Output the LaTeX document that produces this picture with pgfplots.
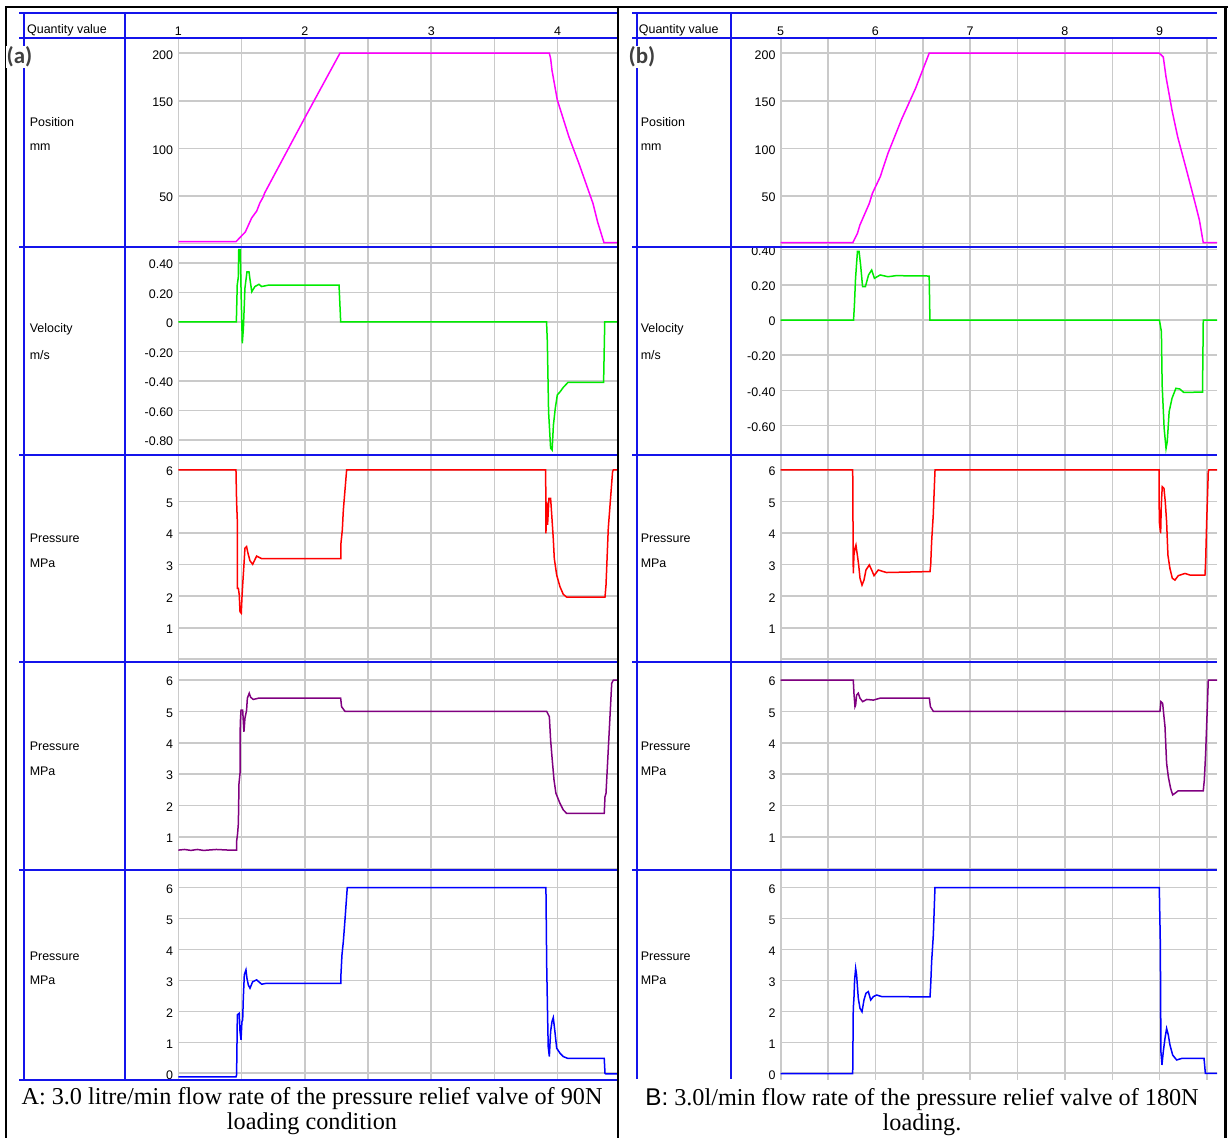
\documentclass[border=0pt]{standalone}
\usepackage{fontspec}
\usepackage{pgfplots}
\pgfplotsset{compat=1.18}
\newfontfamily\arial{Liberation Sans}
\newfontfamily\tnr{Liberation Serif}
\newfontfamily\calib{Carlito}
\definecolor{gridc}{RGB}{202,202,202}
\definecolor{frameblue}{RGB}{20,20,235}
\definecolor{cpink}{RGB}{255,0,255}
\definecolor{cgreen}{RGB}{0,235,0}
\definecolor{cred}{RGB}{255,0,0}
\definecolor{cpurple}{RGB}{128,0,128}
\definecolor{cblue}{RGB}{0,0,255}
\pgfplotsset{
 base/.style={scale only axis, anchor=south west, axis line style={draw=none},
   major tick length=0pt, minor tick length=0pt, tick style={draw=none},
   grid=both, major grid style={draw=gridc, line width=1.6bp},
   minor grid style={draw=gridc, line width=1.6bp},
   xticklabels={},
   tick label style={font=\arial\fontsize{12.5}{14}\selectfont},
   yticklabel style={anchor=east, inner sep=0pt, xshift=-5bp, yshift=-1.5bp},
   every axis plot/.append style={line width=1.5bp, mark=none}},
 L/.style={base, width=438.7bp, xmin=1, xmax=4.469, xtick={1,2,3,4}, minor xtick={1.5,2.5,3.5}},
 R/.style={base, width=436.3bp, xmin=5, xmax=9.605, xtick={5,6,7,8,9}, minor xtick={5.5,6.5,7.5,8.5,9.5}},
 toplab/.style={xticklabel pos=right, xticklabel style={anchor=south, inner sep=0pt, yshift=3bp}},
 pos/.style={height=208bp, ymin=-3.8, ymax=215, ytick={0,50,100,150,200}, yticklabels={,50,100,150,200}},
 p1/.style={height=207bp, ymin=-0.086, ymax=6.475, ytick={0,1,2,3,4,5,6}, yticklabels={,1,2,3,4,5,6}},
 p2/.style={height=208bp, ymin=-0.054, ymax=6.574, ytick={0,1,2,3,4,5,6}, yticklabels={,1,2,3,4,5,6}},
 p3/.style={height=210bp, ymin=-0.217, ymax=6.572, ytick={0,1,2,3,4,5,6}, yticklabels={0,1,2,3,4,5,6}},
}
\begin{document}
\begin{tikzpicture}
\path[use as bounding box] (0,0) rectangle (1228bp,1138bp);
% ---------------- Panel A ----------------
\begin{axis}[L, pos, toplab, xticklabels={1,2,3,4}, at={(178.3bp,891bp)}]
\addplot[cpink] coordinates {(1,1.8) (1.456,1.8) (1.53,12) (1.58,26.7) (1.62,34) (1.646,42.8) (1.67,48.5) (1.684,53.3) (1.996,131) (2.278,200) (3.934,200) (3.944,194.6) (3.955,182) (3.997,150.8) (4.089,112) (4.168,84) (4.279,42) (4.315,22.8) (4.366,0.7) (4.47,0.7)};
\end{axis}
\begin{axis}[L, height=208bp, ymin=-0.902, ymax=0.508, ytick={-0.8,-0.6,-0.4,-0.2,0,0.2,0.4}, yticklabels={-0.80,-0.60,-0.40,-0.20,0,0.20,0.40}, at={(178.3bp,683bp)}]
\addplot[cgreen] coordinates {(1,0) (1.459,0) (1.466,0.25) (1.474,0.30) (1.478,0.49) (1.49,0.49) (1.497,0.18) (1.506,-0.145) (1.515,-0.04) (1.527,0.23) (1.543,0.34) (1.559,0.34) (1.565,0.30) (1.581,0.205) (1.606,0.24) (1.638,0.255) (1.659,0.24) (1.716,0.25) (2.271,0.25) (2.284,0) (3.912,0) (3.918,-0.133) (3.928,-0.61) (3.944,-0.856) (3.956,-0.868) (3.966,-0.70) (3.981,-0.585) (3.997,-0.495) (4.022,-0.47) (4.043,-0.445) (4.081,-0.41) (4.363,-0.41) (4.372,0) (4.47,0)};
\end{axis}
\begin{axis}[L, p1, at={(178.3bp,476bp)}]
\addplot[cred] coordinates {(1,6) (1.456,6) (1.461,4.99) (1.467,4.36) (1.467,2.25) (1.475,2.25) (1.482,2.04) (1.488,1.51) (1.498,1.46) (1.503,1.93) (1.509,2.35) (1.519,2.99) (1.527,3.52) (1.54,3.57) (1.551,3.36) (1.567,3.12) (1.588,3.01) (1.619,3.27) (1.659,3.19) (2.286,3.19) (2.286,3.67) (2.297,4.1) (2.305,4.73) (2.318,5.36) (2.331,6) (3.905,6) (3.907,3.99) (3.913,4.99) (3.92,4.26) (3.931,5.1) (3.944,5.1) (3.952,4.63) (3.965,3.83) (3.973,3.2) (3.992,2.67) (4.018,2.3) (4.044,2.06) (4.071,1.97) (4.374,1.97) (4.382,2.35) (4.4,4.15) (4.434,5.95) (4.44,6) (4.47,6)};
\end{axis}
\begin{axis}[L, p2, at={(178.3bp,268bp)}]
\addplot[cpurple] coordinates {(1,0.58) (1.05,0.6) (1.1,0.57) (1.15,0.6) (1.2,0.57) (1.3,0.6) (1.4,0.58) (1.461,0.58) (1.461,0.85) (1.469,1.11) (1.475,1.43) (1.48,2.71) (1.488,3.03) (1.49,4.62) (1.496,5.04) (1.509,5.04) (1.519,4.35) (1.527,4.78) (1.54,5.04) (1.546,5.42) (1.561,5.58) (1.572,5.45) (1.593,5.38) (1.633,5.42) (2.284,5.42) (2.291,5.15) (2.318,5.0) (3.913,5.0) (3.934,4.83) (3.944,4.09) (3.957,3.45) (3.971,2.81) (3.986,2.39) (4.018,2.07) (4.044,1.86) (4.071,1.75) (4.368,1.75) (4.374,2.28) (4.382,2.39) (4.427,5.89) (4.44,6) (4.47,6)};
\end{axis}
\begin{axis}[L, p3, at={(178.3bp,58bp)}]
\addplot[cblue] coordinates {(1,-0.12) (1.456,-0.12) (1.461,-0.05) (1.467,1.89) (1.482,1.94) (1.488,1.35) (1.496,1.08) (1.503,1.67) (1.509,1.72) (1.514,2.42) (1.522,3.18) (1.535,3.34) (1.543,3.07) (1.554,2.85) (1.567,2.75) (1.588,2.96) (1.619,3.02) (1.659,2.88) (1.698,2.91) (2.286,2.91) (2.286,3.18) (2.294,3.82) (2.305,4.26) (2.318,4.96) (2.336,6) (3.907,6) (3.913,3.5) (3.92,1.89) (3.925,0.86) (3.934,0.54) (3.944,1.35) (3.955,1.67) (3.965,1.8) (3.978,1.35) (3.992,0.81) (4.018,0.65) (4.044,0.54) (4.081,0.48) (4.368,0.48) (4.374,0) (4.38,-0.02) (4.47,-0.02)};
\end{axis}
% ---------------- Panel B ----------------
\begin{axis}[R, pos, toplab, xticklabels={5,6,7,8,9}, at={(780.7bp,891bp)}]
\addplot[cpink] coordinates {(5,0.7) (5.761,0.7) (5.81,10.6) (5.836,19.3) (5.935,42) (5.968,52.7) (6.05,70) (6.132,94.7) (6.278,131) (6.423,163) (6.567,200) (8.997,200) (9.038,196) (9.067,175) (9.13,140) (9.19,112) (9.274,80.6) (9.357,49) (9.419,24.6) (9.46,0.7) (9.61,0.7)};
\end{axis}
\begin{axis}[R, height=208bp, ymin=-0.767, ymax=0.415, ytick={-0.6,-0.4,-0.2,0,0.2,0.4}, yticklabels={-0.60,-0.40,-0.20,0,0.20,0.40}, at={(780.7bp,683bp)}]
\addplot[cgreen] coordinates {(5,0) (5.769,0) (5.778,0.085) (5.79,0.237) (5.81,0.39) (5.827,0.39) (5.844,0.31) (5.864,0.19) (5.894,0.19) (5.927,0.256) (5.96,0.284) (5.989,0.237) (6.05,0.256) (6.132,0.246) (6.216,0.252) (6.567,0.25) (6.575,0) (8.997,0) (9.018,-0.066) (9.026,-0.37) (9.047,-0.615) (9.067,-0.73) (9.08,-0.69) (9.1,-0.52) (9.13,-0.445) (9.171,-0.388) (9.212,-0.392) (9.253,-0.411) (9.452,-0.41) (9.46,0) (9.61,0)};
\end{axis}
\begin{axis}[R, p1, at={(780.7bp,476bp)}]
\addplot[cred] coordinates {(5,6) (5.76,6) (5.766,2.72) (5.773,3.3) (5.784,3.52) (5.794,3.62) (5.809,3.3) (5.823,2.99) (5.837,2.57) (5.858,2.35) (5.879,2.51) (5.9,2.83) (5.935,2.99) (5.96,2.83) (5.985,2.65) (6.03,2.83) (6.083,2.78) (6.118,2.75) (6.576,2.78) (6.583,2.99) (6.593,3.73) (6.61,4.57) (6.628,5.95) (6.63,6) (8.993,6) (8.996,4.36) (9.01,3.99) (9.017,4.89) (9.027,5.47) (9.045,5.42) (9.059,4.99) (9.073,4.36) (9.087,3.3) (9.108,2.88) (9.133,2.57) (9.161,2.51) (9.196,2.65) (9.267,2.72) (9.32,2.67) (9.478,2.67) (9.485,3.09) (9.496,4.36) (9.513,5.95) (9.52,6) (9.61,6)};
\end{axis}
\begin{axis}[R, p2, at={(780.7bp,268bp)}]
\addplot[cpurple] coordinates {(5,6) (5.766,6) (5.773,5.58) (5.784,5.15) (5.791,5.2) (5.801,5.52) (5.819,5.58) (5.837,5.42) (5.865,5.31) (5.908,5.38) (5.978,5.36) (6.048,5.42) (6.569,5.42) (6.58,5.15) (6.611,5.0) (9.003,5.0) (9.013,5.31) (9.031,5.26) (9.056,4.51) (9.073,3.35) (9.091,2.92) (9.115,2.55) (9.137,2.34) (9.161,2.39) (9.196,2.47) (9.46,2.47) (9.471,2.81) (9.485,3.66) (9.513,6) (9.61,6)};
\end{axis}
\begin{axis}[R, p3, at={(780.7bp,58bp)}]
\addplot[cblue] coordinates {(5,-0.01) (5.76,-0.01) (5.766,2.1) (5.773,2.42) (5.78,3.02) (5.791,3.39) (5.801,3.18) (5.819,2.42) (5.837,2.1) (5.858,1.99) (5.879,2.37) (5.9,2.59) (5.925,2.64) (5.95,2.37) (5.978,2.48) (6.013,2.53) (6.066,2.48) (6.576,2.47) (6.583,2.85) (6.593,3.61) (6.611,4.47) (6.628,6) (8.996,6) (9.007,4.15) (9.013,0.7) (9.024,0.27) (9.038,0.7) (9.056,1.13) (9.073,1.45) (9.091,1.24) (9.108,0.92) (9.137,0.59) (9.179,0.43) (9.232,0.48) (9.468,0.48) (9.482,0) (9.61,0)};
\end{axis}
% ---------------- Frames and text ----------------
\begin{scope}[x=1bp, y=-1bp, yshift=1138bp]
 \begin{scope}[draw=frameblue, line width=2bp]
  \foreach \yy in {13,38,247,455,662,870,1080} {\draw (19,\yy) -- (617,\yy);}
  \foreach \yy in {13,38,247,455,662,870} {\draw (632,\yy) -- (1217,\yy);}
  \draw (23.5,13) -- (23.5,1080);
  \draw (125,13) -- (125,1080);
  \draw (636.7,13) -- (636.7,1079);
  \draw (730.8,13) -- (730.8,1079);
 \end{scope}
 \draw[black, line width=2.5bp] (6,1138) -- (6,7) -- (1228,7);
 \draw[black, line width=2.5bp] (618,7) -- (618,1138);
 \draw[black, line width=2.5bp] (1225.5,7) -- (1225.5,1138);
 \node[fill=white, inner sep=1bp, text=black!75, font=\calib\bfseries\fontsize{23}{23}\selectfont] at (19.5,57) {(a)};
 \node[fill=white, inner sep=1bp, text=black!75, font=\calib\bfseries\fontsize{23}{23}\selectfont] at (642,57) {(b)};
 \begin{scope}[every node/.style={anchor=west, inner sep=0pt, font=\arial\fontsize{12.5}{14}\selectfont}]
  \foreach \xx in {27,638.7} {
   \node at (\xx,30) {Quantity value};
  }
  \foreach \xx in {29.6,640.6} {
   \node at (\xx,122) {Position};
   \node at (\xx,147) {mm};
   \node at (\xx,329) {Velocity};
   \node at (\xx,355) {m/s};
   \node at (\xx,538) {Pressure};
   \node at (\xx,563) {MPa};
   \node at (\xx,746) {Pressure};
   \node at (\xx,771) {MPa};
   \node at (\xx,956) {Pressure};
   \node at (\xx,980) {MPa};
  }
 \end{scope}
 \begin{scope}[every node/.style={anchor=base, inner sep=0pt, font=\tnr\fontsize{24.3}{28}\selectfont}]
  \node at (312,1105) {A: 3.0 litre/min flow rate of the pressure relief valve of 90N};
  \node at (312,1130) {loading condition};
  \node at (922,1106) {{\arial B:} 3.0l/min flow rate of the pressure relief valve of 180N};
  \node at (922,1131) {loading.};
 \end{scope}
\end{scope}
\end{tikzpicture}
\end{document}
